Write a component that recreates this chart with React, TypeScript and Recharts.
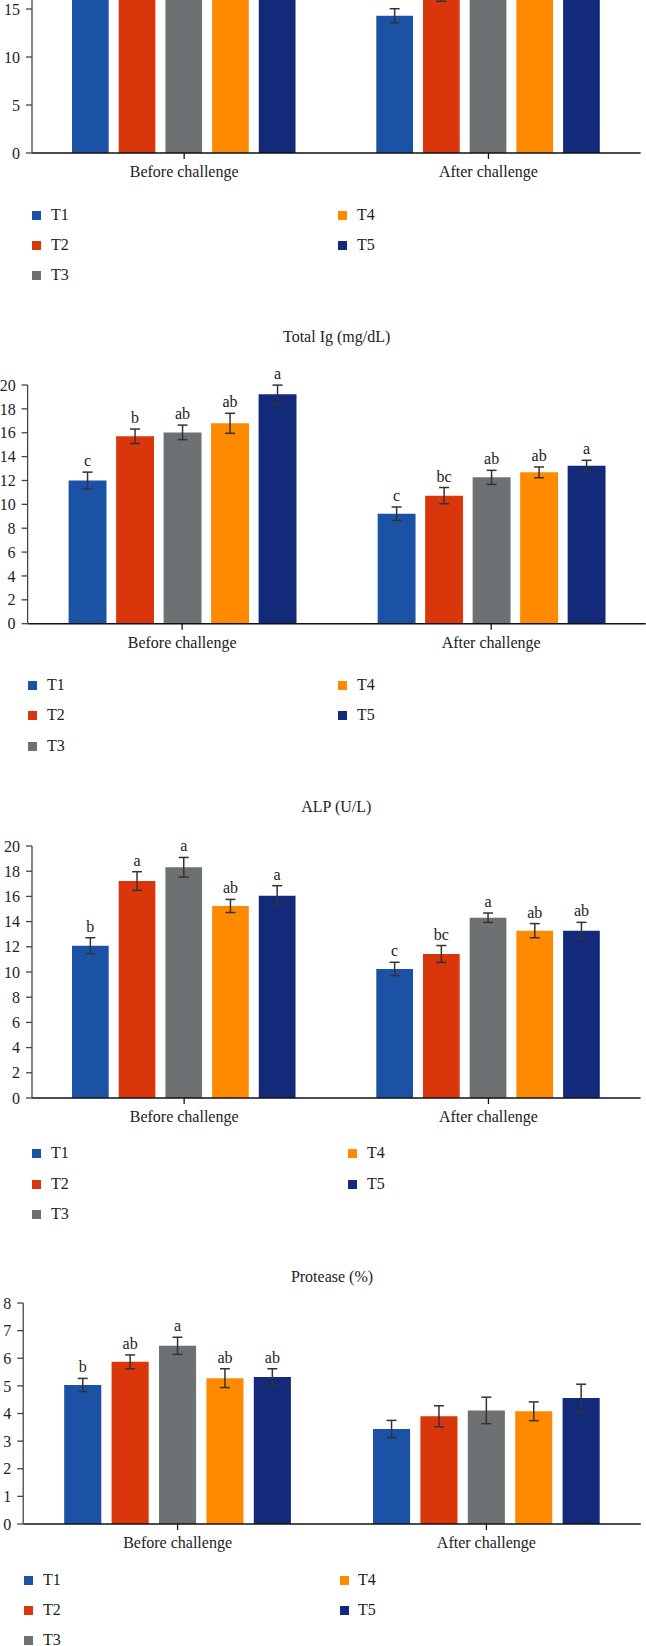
import React from 'react'
import { BarChart, Bar, XAxis, YAxis, ErrorBar, LabelList } from 'recharts'

const groups = ['Before challenge', 'After challenge']
const treatments = ['T1', 'T2', 'T3', 'T4', 'T5']
const colors = ['#1c52a5', '#d9360b', '#6e7173', '#ff8a00', '#13297a']

// first panel: its upper half is cut off in the source figure
const topBefore = [17.4, 19.6, 20.3, 21.0, 22.1]
const topAfter = [14.3, 16.5, 17.3, 18.0, 18.6]
const topBeforeErr = [0.7, 0.8, 0.7, 0.8, 0.9]
const topAfterErr = [0.73, 0.7, 0.7, 0.7, 0.8]
const topBeforeSig = ['', '', '', '', '']
const topAfterSig = ['', '', '', '', '']

// Total Ig (mg/dL)
const igBefore = [12.0, 15.7, 16.03, 16.79, 19.22]
const igAfter = [9.22, 10.73, 12.26, 12.68, 13.24]
const igBeforeErr = [0.7, 0.61, 0.61, 0.84, 0.77]
const igAfterErr = [0.56, 0.68, 0.59, 0.45, 0.45]
const igBeforeSig = ['c', 'b', 'ab', 'ab', 'a']
const igAfterSig = ['c', 'bc', 'ab', 'ab', 'a']

// ALP (U/L)
const alpBefore = [12.09, 17.22, 18.31, 15.24, 16.06]
const alpAfter = [10.24, 11.43, 14.31, 13.28, 13.28]
const alpBeforeErr = [0.63, 0.74, 0.78, 0.52, 0.79]
const alpAfterErr = [0.53, 0.67, 0.37, 0.56, 0.66]
const alpBeforeSig = ['b', 'a', 'a', 'ab', 'a']
const alpAfterSig = ['c', 'bc', 'a', 'ab', 'ab']

// Protease (%)
const protBefore = [5.03, 5.87, 6.45, 5.28, 5.32]
const protAfter = [3.44, 3.9, 4.11, 4.08, 4.56]
const protBeforeErr = [0.24, 0.25, 0.31, 0.34, 0.3]
const protAfterErr = [0.31, 0.38, 0.48, 0.34, 0.5]
const protBeforeSig = ['b', 'ab', 'a', 'ab', 'ab']
const protAfterSig = ['', '', '', '', '']

const FONT = '"Liberation Serif", "DejaVu Serif", serif'
const W = 646
const M_TOP = 30
const X_H = 40

function buildRows(vals: number[][], errs: number[][], sigs: string[][]) {
  return groups.map((g, gi) => {
    const row: any = { group: g }
    treatments.forEach((t, ti) => {
      row[t] = vals[gi][ti]
      row[t + '_err'] = errs[gi][ti]
      row[t + '_sig'] = sigs[gi][ti]
    })
    return row
  })
}

const sigLabel = (rows: any[], t: string) => (props: any) => {
  const { x, y, width, height, value, index } = props
  if (!value) return null
  const v = rows[index][t]
  const e = rows[index][t + '_err']
  const h = Math.abs(height)
  const top = Math.min(y, y + height)
  const errTop = top - (e * h) / v
  return (
    <text
      x={x + width / 2}
      y={errTop - 6}
      textAnchor="middle"
      fontSize={16}
      fontFamily={FONT}
      fill="#222"
    >
      {value}
    </text>
  )
}

interface PanelProps {
  rows: any[]
  max: number
  ticks: number[]
  plotTop: number
  plotH: number
  left: number
  right: number
  barSize: number
  barGap: number
  title?: string
  titleY?: number
  legend: { sq1: number; tx1: number; sq2: number; tx2: number; ys: number[] }
}

function Panel(p: PanelProps) {
  const col1 = [0, 1, 2]
  const col2 = [3, 4]
  const item = (i: number, sq: number, tx: number, y: number) => (
    <React.Fragment key={treatments[i]}>
      <div
        style={{
          position: 'absolute',
          left: sq,
          top: y - 4.5,
          width: 9,
          height: 9,
          background: colors[i],
        }}
      />
      <div
        style={{
          position: 'absolute',
          left: tx,
          top: y - 10,
          lineHeight: '20px',
          fontSize: 16,
          color: '#222',
        }}
      >
        {treatments[i]}
      </div>
    </React.Fragment>
  )

  return (
    <>
      {p.title && (
        <div
          style={{
            position: 'absolute',
            left: p.left,
            width: p.right - p.left,
            top: (p.titleY as number) - 10,
            lineHeight: '20px',
            fontSize: 16,
            textAlign: 'center',
            color: '#222',
          }}
        >
          {p.title}
        </div>
      )}
      <div style={{ position: 'absolute', left: 0, top: p.plotTop - M_TOP }}>
        <BarChart
          width={W}
          height={M_TOP + p.plotH + X_H}
          data={p.rows}
          margin={{ top: M_TOP, right: W - p.right, left: 0, bottom: 0 }}
          barSize={p.barSize}
          barGap={p.barGap}
        >
          <XAxis
            dataKey="group"
            height={X_H}
            axisLine={{ stroke: '#111', strokeWidth: 1.5 }}
            tickLine={{ stroke: '#111', strokeWidth: 1.3 }}
            tickSize={6}
            tickMargin={7}
            tick={{ fontSize: 16, fill: '#222', fontFamily: FONT }}
          />
          <YAxis
            width={p.left}
            domain={[0, p.max]}
            ticks={p.ticks}
            allowDataOverflow
            interval={0}
            axisLine={{ stroke: '#444', strokeWidth: 1.3 }}
            tickLine={{ stroke: '#444', strokeWidth: 1.3 }}
            tickSize={6}
            tickMargin={6}
            tick={{ fontSize: 16, fill: '#222', fontFamily: FONT }}
          />
          {treatments.map((t, i) => (
            <Bar key={t} dataKey={t} fill={colors[i]} isAnimationActive={false}>
              <ErrorBar
                dataKey={t + '_err'}
                width={5}
                stroke="#333"
                strokeWidth={1.5}
                isAnimationActive={false}
              />
              <LabelList dataKey={t + '_sig'} content={sigLabel(p.rows, t)} />
            </Bar>
          ))}
        </BarChart>
      </div>
      {col1.map((i, k) => item(i, p.legend.sq1, p.legend.tx1, p.legend.ys[k]))}
      {col2.map((i, k) => item(i, p.legend.sq2, p.legend.tx2, p.legend.ys[k]))}
    </>
  )
}

export default function App() {
  const topRows = buildRows([topBefore, topAfter], [topBeforeErr, topAfterErr], [topBeforeSig, topAfterSig])
  const igRows = buildRows([igBefore, igAfter], [igBeforeErr, igAfterErr], [igBeforeSig, igAfterSig])
  const alpRows = buildRows([alpBefore, alpAfter], [alpBeforeErr, alpAfterErr], [alpBeforeSig, alpAfterSig])
  const protRows = buildRows([protBefore, protAfter], [protBeforeErr, protAfterErr], [protBeforeSig, protAfterSig])

  return (
    <div
      style={{
        position: 'absolute',
        left: 0,
        top: 0,
        width: W,
        height: 1646,
        overflow: 'hidden',
        background: '#fff',
        fontFamily: FONT,
      }}
    >
      <Panel
        rows={topRows}
        max={25}
        ticks={[0, 5, 10, 15, 20, 25]}
        plotTop={-86.7}
        plotH={240}
        left={32}
        right={640.6}
        barSize={36.7}
        barGap={10}
        legend={{ sq1: 32, tx1: 51, sq2: 338, tx2: 357, ys: [215, 245, 275] }}
      />
      <Panel
        rows={igRows}
        max={20}
        ticks={[0, 2, 4, 6, 8, 10, 12, 14, 16, 18, 20]}
        plotTop={385}
        plotH={238.7}
        left={27.6}
        right={645.7}
        barSize={37.9}
        barGap={9.6}
        title="Total Ig (mg/dL)"
        titleY={336.7}
        legend={{ sq1: 28, tx1: 47, sq2: 338, tx2: 357, ys: [685, 715, 746] }}
      />
      <Panel
        rows={alpRows}
        max={20}
        ticks={[0, 2, 4, 6, 8, 10, 12, 14, 16, 18, 20]}
        plotTop={845.7}
        plotH={252}
        left={32}
        right={640.6}
        barSize={36.7}
        barGap={10}
        title="ALP (U/L)"
        titleY={807.3}
        legend={{ sq1: 32, tx1: 51, sq2: 348, tx2: 367, ys: [1153, 1184, 1214] }}
      />
      <Panel
        rows={protRows}
        max={8}
        ticks={[0, 1, 2, 3, 4, 5, 6, 7, 8]}
        plotTop={1303.3}
        plotH={221}
        left={23.2}
        right={640.8}
        barSize={37.1}
        barGap={10.3}
        title="Protease (%)"
        titleY={1277.3}
        legend={{ sq1: 24, tx1: 43, sq2: 340, tx2: 358, ys: [1580, 1610, 1640] }}
      />
    </div>
  )
}
